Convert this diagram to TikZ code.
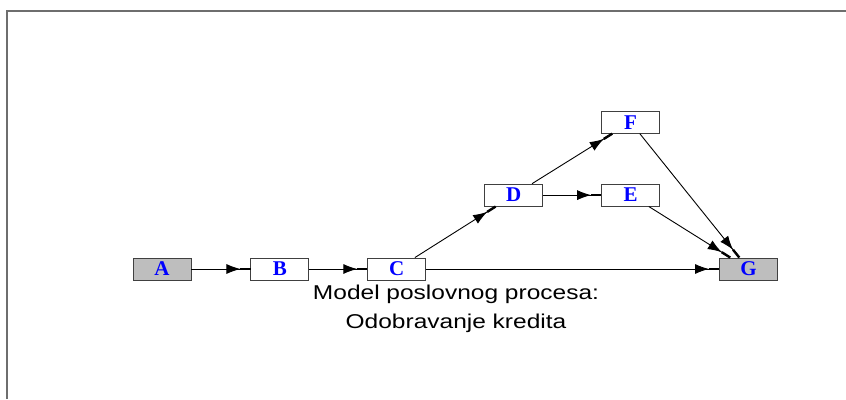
\documentclass[tikz,border=0pt]{standalone}
\usepackage{fontspec}
\setmainfont{Liberation Serif}
\newfontfamily\captionfont[FakeStretch=1.225]{Liberation Sans}
\usetikzlibrary{arrows.meta, positioning}
\definecolor{boxline}{HTML}{404040}
\definecolor{boxgray}{HTML}{BEBEBE}
\definecolor{framegray}{HTML}{6E6E6E}
\tikzset{
  task/.style={rectangle, draw=boxline, line width=0.9pt, minimum height=22pt, minimum width=58pt, inner sep=0pt, text=blue, font=\fontsize{21}{21}\selectfont\bfseries},
  terminal/.style={task, fill=boxgray},
  flow/.style={-{Latex[length=14pt,width=10pt]Rectangle[length=10pt,width=2.4pt]}, line width=0.9pt},
}

\begin{document}
\begin{tikzpicture}
    \useasboundingbox (0,0) rectangle (846pt,-399pt);
    \draw[framegray, line width=2pt] (7pt,-399pt) -- (7pt,-11pt) -- (846pt,-11pt);
    \node[terminal] (A) at (162pt,-269pt) {A};
    \node[task, right=59pt of A] (B) {B};
    \node[task, right=58pt of B] (C) {C};
    \node[task, above right=51pt and 58pt of C] (D) {D};
    \node[task, right=58pt of D] (E) {E};
    \node[task, above=50pt of E] (F) {F};
    \node[terminal, below right=51pt and 59pt of E] (G) {G};
    \node[font=\captionfont\fontsize{20}{29}\selectfont, align=center] (title) at (456pt,-309pt) {Model poslovnog procesa:\\Odobravanje kredita};
    \draw[flow] (A) -- (B);
    \draw[flow] (B) -- (C);
    \draw[flow] (C) -- (D);
    \draw[flow] (C) -- (G);
    \draw[flow] (D) -- (E);
    \draw[flow] (D) -- (F);
    \draw[flow] (E) -- (G);
    \draw[flow] (F) -- (G);
  \end{tikzpicture}
\end{document}
